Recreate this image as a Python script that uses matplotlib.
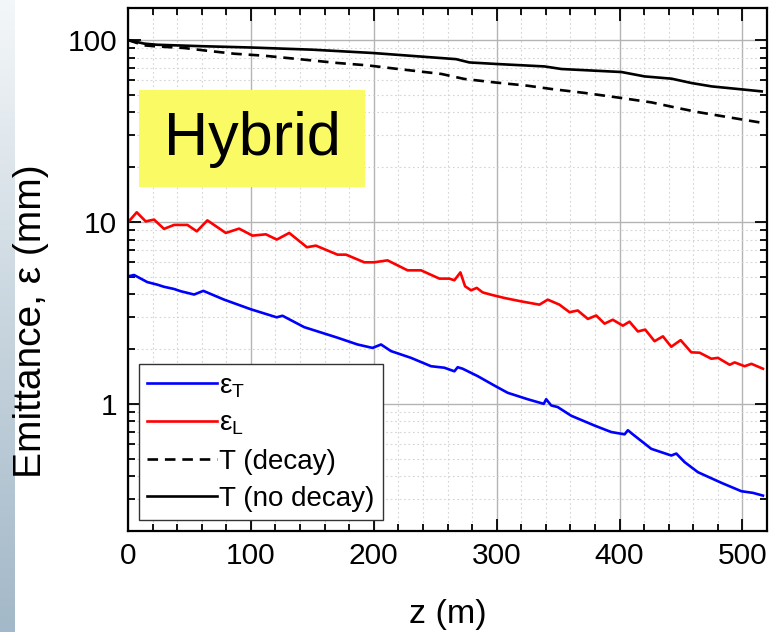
import numpy as np
import matplotlib.pyplot as plt
from matplotlib.patches import Rectangle
from matplotlib.ticker import MultipleLocator, LogLocator, NullFormatter

plt.rcParams['font.family'] = ['Liberation Sans', 'DejaVu Sans']
plt.rcParams['mathtext.fontset'] = 'custom'
plt.rcParams['mathtext.rm'] = 'Liberation Sans'

# transverse emittance (blue)
z_T = [0, 4.9, 15.7, 23.9, 29.3, 37.5, 42.9, 53.8, 61.3, 78.2, 100, 121, 125.7,
       143.4, 170.5, 186.8, 199, 205.9, 214, 230.3, 246.6, 257.4, 265.6, 268.3,
       272.3, 284.6, 298.2, 309, 325.3, 338.3, 340.3, 344.4, 349.7, 360.7,
       379.6, 393.2, 404.1, 406.8, 410.8, 425.8, 442.1, 446.2, 453, 463.8,
       482.9, 499.1, 508.6, 516.7]
eps_T = [5.02, 5.11, 4.67, 4.52, 4.40, 4.28, 4.16, 3.99, 4.18, 3.74, 3.31, 2.99,
         3.05, 2.64, 2.31, 2.12, 2.03, 2.12, 1.95, 1.79, 1.61, 1.58, 1.51, 1.59,
         1.56, 1.42, 1.26, 1.15, 1.06, 1.00, 1.06, 0.98, 0.96, 0.86, 0.76, 0.70,
         0.68, 0.716, 0.68, 0.566, 0.52, 0.533, 0.478, 0.421, 0.368, 0.331,
         0.324, 0.313]

# longitudinal emittance (red)
z_L = [0, 7.1, 14.4, 21.2, 29.3, 37.5, 48.3, 56, 64.6, 79.6, 90.4, 101.3, 112.2,
       121.1, 131.2, 145.6, 152.9, 170.5, 177.4, 192.3, 200.4, 211.2, 227.5,
       238.5, 253.4, 261.5, 265.6, 270.5, 274.3, 279.2, 283.8, 288.6, 295.5,
       306.3, 319.9, 334.8, 341.6, 351.1, 359.3, 366, 374.2, 381, 387.8, 394.5,
       402.7, 408.1, 414.9, 420.9, 428.5, 435.3, 442.1, 449.7, 458.4, 465.2,
       474.7, 480.1, 489.6, 493.7, 501.8, 507.3, 516.7]
eps_L = [9.95, 11.3, 10.07, 10.3, 9.16, 9.63, 9.63, 8.88, 10.2, 8.7, 9.19, 8.41,
         8.55, 8.0, 8.7, 7.26, 7.41, 6.61, 6.61, 6.0, 6.0, 6.15, 5.42, 5.42,
         4.88, 4.88, 4.78, 5.28, 4.43, 4.21, 4.34, 4.1, 3.98, 3.82, 3.66, 3.51,
         3.74, 3.51, 3.19, 3.26, 2.93, 3.06, 2.76, 2.9, 2.69, 2.83, 2.5, 2.56,
         2.21, 2.35, 2.06, 2.24, 1.92, 1.91, 1.77, 1.79, 1.64, 1.69, 1.61, 1.66,
         1.56]

# transmission with decay (dashed)
z_dec = [0, 13, 23.6, 45.6, 64.4, 86.4, 110.8, 137.7, 170.3, 194.7, 219.1, 255,
         273.7, 298.2, 325, 344.6, 371.5, 401.6, 426.1, 447.3, 463.5, 488,
         512.4, 518]
T_dec = [100, 93.5, 92.2, 90.4, 87.3, 84.1, 82.0, 78.7, 74.8, 72.6, 69.4, 65.1,
         61.1, 58.5, 56.1, 53.8, 51.2, 48.0, 45.4, 42.3, 40.2, 37.7, 35.4, 34.9]

# transmission without decay (solid)
z_nodec = [0, 13, 23.6, 60, 99.4, 150, 198.8, 261.5, 267, 277.8, 300.6, 338.9,
           352.7, 401.6, 420.4, 442.4, 458.7, 475, 500, 515.7]
T_nodec = [100, 95.6, 94.2, 92.5, 91.0, 88.5, 84.9, 79.0, 78.5, 75.3, 73.8, 71.6,
           69.3, 66.7, 63.1, 61.3, 58.0, 55.6, 53.5, 52.2]

fig = plt.figure(figsize=(7.71, 6.32), dpi=100)

# slide background strip on the left edge
strip = fig.add_axes([0, 0, 15 / 771, 1])
grad = np.linspace(0, 1, 256).reshape(-1, 1)
strip.imshow(grad, aspect='auto', cmap=plt.matplotlib.colors.LinearSegmentedColormap.from_list(
    'strip', ['#f4f7f9', '#c9d6df', '#a3b8c8']), extent=[0, 1, 0, 1], origin='upper')
strip.axis('off')

ax = fig.add_axes([128 / 771, 1 - 531 / 632, 639 / 771, 523 / 632])

ax.plot(z_T, eps_T, color='#0000ff', lw=1.9, label='ε$_{\\mathrm{T}}$')
ax.plot(z_L, eps_L, color='#ff0000', lw=1.9, label='ε$_{\\mathrm{L}}$')
ax.plot(z_dec, T_dec, color='black', lw=1.9, dashes=(4, 2.6), label='T (decay)')
ax.plot(z_nodec, T_nodec, color='black', lw=1.9, label='T (no decay)')

ax.set_yscale('log')
ax.set_xlim(0, 520)
ax.set_ylim(0.2, 150)

ax.xaxis.set_major_locator(MultipleLocator(100))
ax.xaxis.set_minor_locator(MultipleLocator(20))
ax.yaxis.set_major_locator(LogLocator(base=10))
ax.yaxis.set_minor_locator(LogLocator(base=10, subs=np.arange(2, 10)))
ax.yaxis.set_minor_formatter(NullFormatter())
ax.yaxis.set_major_formatter(plt.FuncFormatter(lambda v, p: f'{v:g}'))

ax.grid(which='major', color='#b4b4b4', lw=1.0)
ax.grid(which='minor', color='#d4d4d4', lw=0.8, ls=(0, (1.5, 2.5)))
ax.set_axisbelow(True)

ax.tick_params(which='both', direction='in', top=True, right=True, width=1.3,
               labelsize=21.5)
ax.tick_params(which='major', length=9)
ax.tick_params(which='minor', length=5)
ax.tick_params(axis='x', pad=8)
ax.tick_params(axis='y', pad=8)
for s in ax.spines.values():
    s.set_linewidth(1.6)

ax.set_xlabel('z (m)', fontsize=24.5)
ax.xaxis.set_label_coords(0.5, -0.13)
fig.text(31 / 771, 1 - 321 / 632, 'Emittance, ε (mm)', rotation=90,
         ha='center', va='center', fontsize=28)

# "Hybrid" tag
ax.add_patch(Rectangle(((139 - 128) / 639, (531 - 187) / 523), 226 / 639, 97 / 523,
                       transform=ax.transAxes, facecolor='#fafa64', edgecolor='none',
                       zorder=3))
ax.text((252 - 128) / 639, (531 - 139) / 523, 'Hybrid', transform=ax.transAxes,
        ha='center', va='center', fontsize=44, zorder=4)

leg = ax.legend(loc='lower left', bbox_to_anchor=(0.017, 0.021), borderaxespad=0,
                fontsize=20, handlelength=2.5, handletextpad=0.1, labelspacing=0.4,
                borderpad=0.3, fancybox=False, framealpha=1, edgecolor='#333333')
leg.get_frame().set_linewidth(1.0)

fig.savefig('out.png', dpi=100)
